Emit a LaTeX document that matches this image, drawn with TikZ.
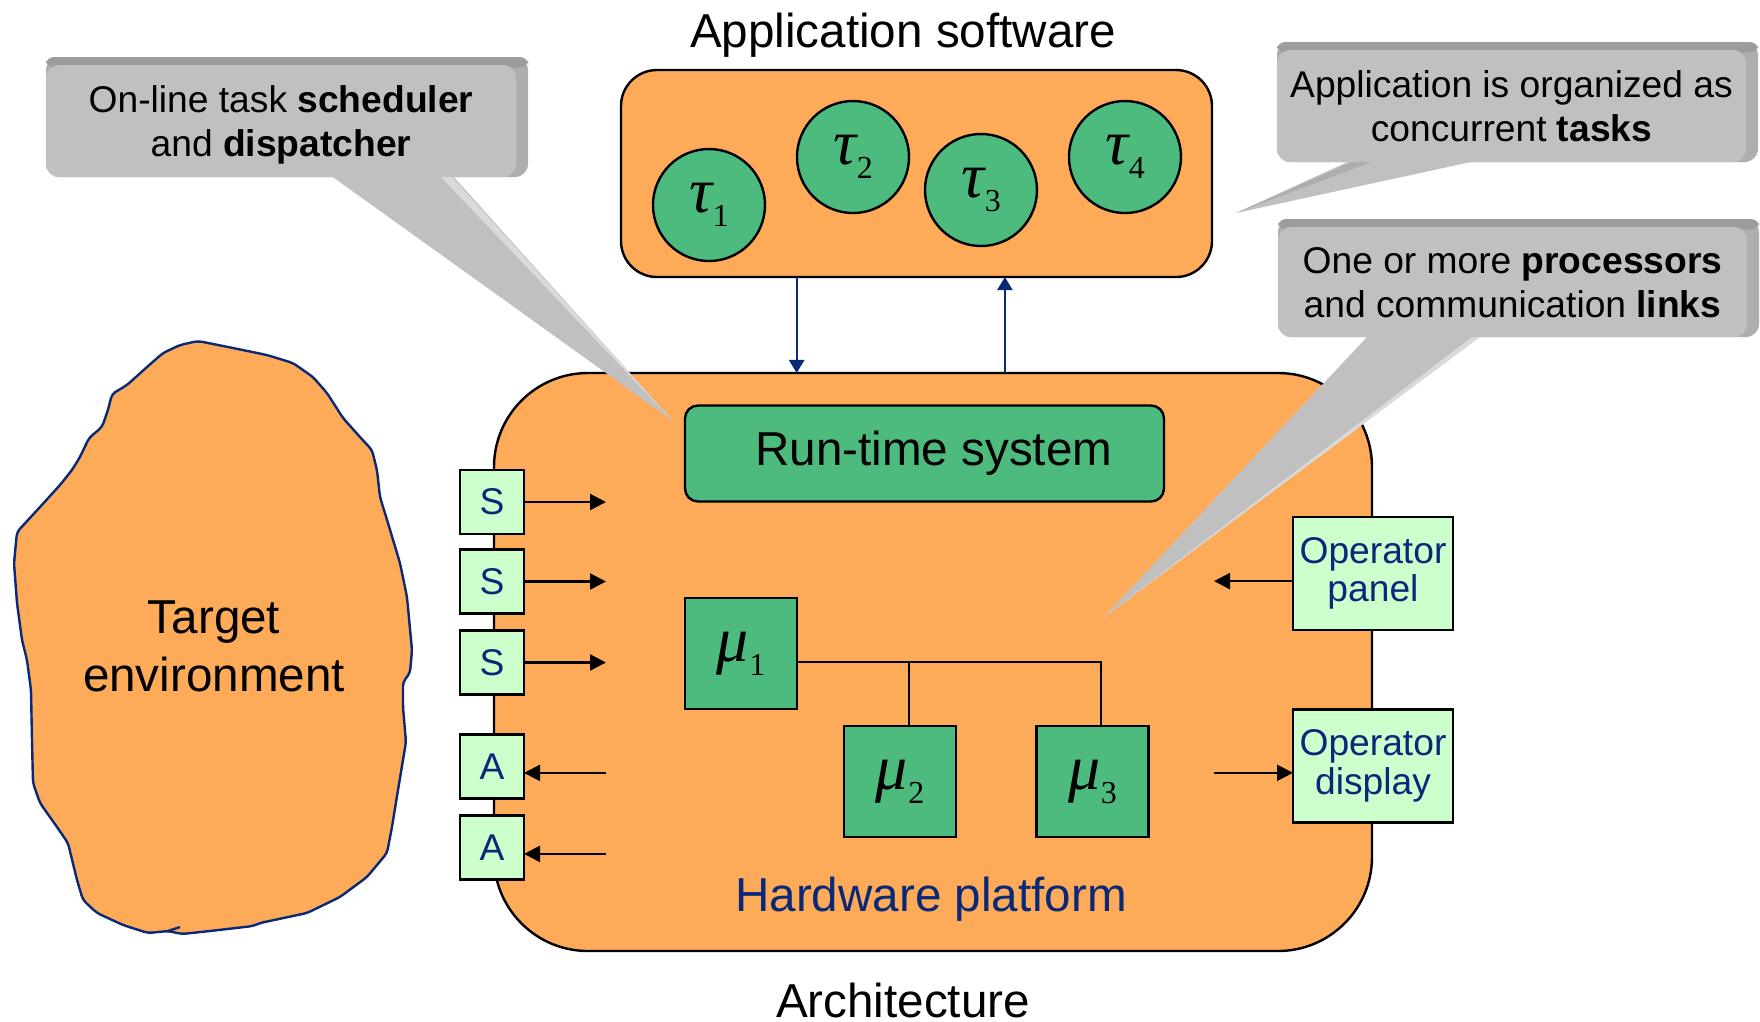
\documentclass[tikz,border=0pt]{standalone}
\usepackage{fontspec}
\setmainfont{Liberation Sans}
\newfontfamily\greekfont{Liberation Serif}
\usetikzlibrary{arrows.meta,positioning,backgrounds}

\definecolor{boxorange}{RGB}{253,171,89}
\definecolor{taskgreen}{RGB}{76,187,125}
\definecolor{iogreen}{RGB}{204,255,204}
\definecolor{navy}{RGB}{10,40,120}
\definecolor{notegray}{RGB}{192,192,192}
\definecolor{notetop}{RGB}{156,156,156}
\definecolor{noteside}{RGB}{174,174,174}
\definecolor{noteshine}{RGB}{218,218,218}

\newcommand{\bigtext}{\fontsize{11.9}{14.5}\selectfont}
\newcommand{\smalltext}{\fontsize{9.3}{11}\selectfont}
\newcommand{\optext}{\fontsize{9.3}{8.6}\selectfont}
\newcommand{\taskname}[2]{{\greekfont\fontsize{16}{16}\selectfont\itshape #1}\kern0.2pt\raisebox{-3.5pt}{\greekfont\fontsize{8}{8}\selectfont #2}}

\begin{document}
\begin{tikzpicture}[
    x=0.25pt, y=-0.25pt,
    every node/.style={inner sep=0pt, outer sep=0pt},
    frame/.style={draw, line width=0.6pt, fill=boxorange},
    taskcirc/.style={circle, draw, line width=0.6pt, fill=taskgreen, minimum size=28pt},
    proc/.style={rectangle, draw, line width=0.6pt, fill=taskgreen, minimum width=28pt, minimum height=27.75pt},
    io/.style={rectangle, draw, line width=0.6pt, fill=iogreen, minimum width=16pt, minimum height=16pt, text=navy, font=\smalltext},
    opbox/.style={io, minimum width=40pt, minimum height=28.25pt, align=center, font=\optext},
    note/.style={fill=notegray, rounded corners=3.3pt, minimum width=117.5pt, minimum height=28pt, align=center, font=\smalltext, text depth=0pt},
    sig/.style={-{Triangle[length=4pt,width=4pt]}, line width=0.6pt},
    flow/.style={-{Triangle[length=3.3pt,width=3.8pt]}, line width=0.6pt, navy},
    heading/.style={font=\bigtext, anchor=base}
]
\useasboundingbox (0,0) rectangle (1760,1021);

\filldraw[
    fill = boxorange,
    draw = navy,
    line width = 0.6pt,
    rounded corners = 1pt
]
(198,341) -- (233,348) -- (267,355) -- (293,363) -- (313,377) -- (327,393) -- (343,418) -- (360,437)
 -- (372,450) -- (377,470) -- (380,497) -- (388,523) -- (400,563) -- (407,597) -- (412,650) -- (410,673)
 -- (403,682) -- (403,707) -- (406,742) -- (398,790) -- (392,827) -- (387,853) -- (367,877) -- (340,897)
 -- (307,913) -- (260,923) -- (253,926) -- (210,931) -- (182,934) -- (168,931) -- (148,933) -- (123,925)
 -- (97,913) -- (83,900) -- (77,880) -- (68,843) -- (57,827) -- (40,803) -- (33,783) -- (32,740)
 -- (31,690) -- (27,660) -- (22,640) -- (17,603) -- (14,563) -- (17,532) -- (40,507) -- (60,485)
 -- (72,470) -- (80,457) -- (89,438) -- (102,427) -- (108,410) -- (112,394) -- (127,385) -- (147,367)
 -- (163,353) -- (180,345) -- cycle;
\draw[navy, line width=0.6pt] (168,931) -- (180,927);
\node[font=\bigtext, align=center] (target) at (214,646) {Target\\environment};

\node[heading] (apptitle) at (903,47) {Application software};
\node[frame, rounded corners=9pt, minimum width=147.75pt, minimum height=51.75pt] (appsw) at (916.5,173.5) {};
\node[taskcirc] (tau1) at (709,205) {\taskname{τ}{1}};
\node[taskcirc] (tau2) at (853,157) {\taskname{τ}{2}};
\node[taskcirc] (tau3) at (981,190) {\taskname{τ}{3}};
\node[taskcirc] (tau4) at (1125,157) {\taskname{τ}{4}};

\node[frame, rounded corners=23.5pt, minimum width=219.5pt, minimum height=144.5pt] (hw) at (933,662) {};
\node[heading, text=navy] (hwname) at (931,911) {Hardware platform};
\node[heading] (archtitle) at (903,1017) {Architecture};

\coordinate[xshift=-29.95pt] (downtop) at (appsw.south);
\coordinate[xshift=22.1pt] (uptop) at (appsw.south);
\draw[flow] (downtop) -- (downtop |- hw.north);
\draw[flow] (uptop |- hw.north) -- (uptop);

\node[proc, rounded corners=3.25pt, minimum width=119.75pt, minimum height=24pt, font=\bigtext] (rts) at (924.5,453.5) {\hspace*{4.6pt}Run-time system};

\node[io] (s1) at (492,502) {S};
\node[io] (s2) at (492,581.5) {S};
\node[io] (s3) at (492,662.5) {S};
\node[io] (a1) at (492,766.5) {A};
\node[io] (a2) at (492,847.5) {A};
\foreach \s in {s1,s2,s3} {
    \coordinate[right=20.5pt of \s.east] (\s-in);
    \draw[sig] (\s.east) -- (\s-in);
}
\foreach \a in {a1,a2} {
    \coordinate[right=20.5pt of \a.east, yshift=-1.6pt] (\a-out);
    \draw[sig] (\a-out) -- (\a-out -| \a.east);
}

\node[proc] (mu1) at (741,653.5) {\taskname{μ}{1}};
\node[proc] (mu2) at (900,781.5) {\taskname{μ}{2}};
\node[proc] (mu3) at (1092.5,781.5) {\taskname{μ}{3}};
\coordinate[yshift=-2.1pt] (bus) at (mu1.east);
\coordinate[xshift=2.2pt] (drop2) at (mu2.north);
\coordinate[xshift=2.1pt] (drop3) at (mu3.north);
\draw[line width=0.6pt] (bus) -| (drop3);
\draw[line width=0.6pt] (drop2) -- (drop2 |- bus);

\node[opbox] (oppanel) at (1373,573.5) {Operator\\panel};
\node[opbox] (opdisplay) at (1373,766) {Operator\\display};
\coordinate[left=19.75pt of oppanel.west, yshift=-1.9pt] (panelin);
\coordinate[left=19.75pt of opdisplay.west, yshift=-1.7pt] (displayout);
\draw[sig] (panelin -| oppanel.west) -- (panelin);
\draw[sig] (displayout) -- (displayout -| opdisplay.west);

\node[note] (note1) at (281,121) {On-line task \textbf{scheduler}\\and \textbf{dispatcher}};
\node[note, minimum width=117.25pt] (note2) at (1511.5,106) {Application is organized as\\concurrent \textbf{tasks}};
\node[note, minimum width=117.25pt, minimum height=27.5pt] (note3) at (1512.5,282) {One or more \textbf{processors}\\and communication \textbf{links}};
\begin{scope}[on background layer]
    \foreach \nt in {note1,note2,note3} {
        \fill[noteside, rounded corners=3.3pt] ([yshift=2pt]\nt.north west) rectangle ([xshift=3pt]\nt.south east);
        \fill[notetop, rounded corners=2pt] ([yshift=2pt]\nt.north west) rectangle ([xshift=3pt,yshift=-0.6pt]\nt.north east);
    }
\end{scope}

\coordinate (tip1) at (673,421);
\coordinate (tip2) at (1236,213);
\coordinate (tip3) at (1103,618);
\fill[notegray] ([xshift=12.25pt,yshift=0.5pt]note1.south) -- ([xshift=42.75pt,yshift=0.5pt]note1.south) -- (tip1) -- cycle;
\fill[noteshine] ([xshift=40pt]note1.south) -- ([xshift=42.75pt]note1.south) -- (tip1) -- cycle;
\fill[notegray] ([xshift=-39.9pt,yshift=0.5pt]note2.south) -- ([xshift=-7.9pt,yshift=0.5pt]note2.south) -- (tip2) -- cycle;
\fill[noteside] ([xshift=-39.9pt]note2.south) -- ([xshift=-35pt]note2.south) -- (tip2) -- cycle;
\fill[notegray] ([xshift=-35.9pt,yshift=0.5pt]note3.south) -- ([xshift=-8.1pt,yshift=0.5pt]note3.south) -- (tip3) -- cycle;
\fill[noteshine] ([xshift=-10.1pt]note3.south) -- ([xshift=-8.1pt]note3.south) -- (tip3) -- cycle;
\end{tikzpicture}
\end{document}
